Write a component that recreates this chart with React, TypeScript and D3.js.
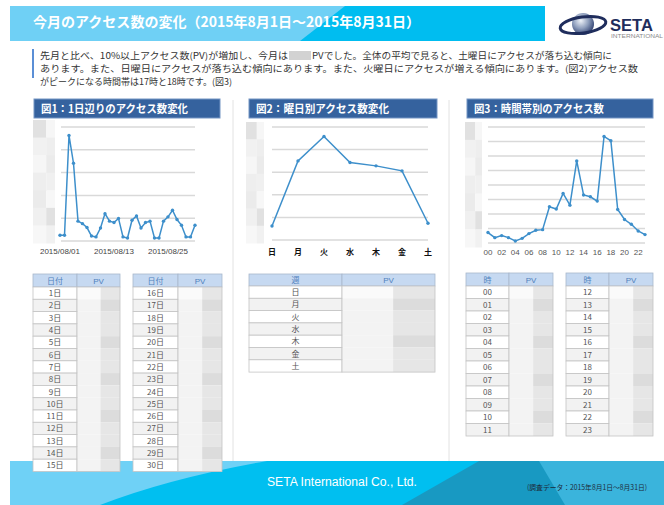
import React from 'react'
import * as d3 from 'd3'

// ---- data ----
const dailyPV = [25, 25, 463, 341, 87, 76, 59, 22, 18, 57, 120, 87, 81, 99, 18, 13, 91, 110, 57, 81, 87, 13, 13, 87, 106, 135, 94, 69, 18, 18, 69]
const dayTickDays = [1, 13, 25]
const dayTickLabels = ['2015/08/01', '2015/08/13', '2015/08/25']

const weekdays = ['日', '月', '火', '水', '木', '金', '土']
const weekdayPV = [62, 350, 458, 343, 328, 306, 74]

const hours = ['00', '01', '02', '03', '04', '05', '06', '07', '08', '09', '10', '11', '12', '13', '14', '15', '16', '17', '18', '19', '20', '21', '22', '23']
const hourlyPV = [72, 37, 51, 37, 14, 32, 65, 88, 92, 250, 234, 342, 261, 566, 331, 319, 289, 735, 705, 231, 162, 129, 83, 58]
const hourTicks = ['00', '02', '04', '06', '08', '10', '12', '14', '16', '18', '20', '22']

const dayRowsA = ['1日', '2日', '3日', '4日', '5日', '6日', '7日', '8日', '9日', '10日', '11日', '12日', '13日', '14日', '15日']
const dayRowsB = ['16日', '17日', '18日', '19日', '20日', '21日', '22日', '23日', '24日', '25日', '26日', '27日', '28日', '29日', '30日']
const hourRowsA = hours.slice(0, 12)
const hourRowsB = hours.slice(12)

// blurred (mosaic) axis labels in the original
const mosaic = ['#e1e1e1', '#f1f1f1', '#f6f6f6', '#eeeeee', '#ebebeb', '#f0f0f0', '#f7f7f7']

const JP = '"Noto Sans CJK JP", "Noto Sans", sans-serif'
const LAT = '"Liberation Sans", Arial, sans-serif'
const LINE = '#3d8fcb'
const GRID = '#d9d9d9'

type ChartProps = {
  x0: number, x1: number, yTop: number, yBot: number, nGrid: number, max: number
}

const Grid = ({ x0, x1, yTop, yBot, nGrid, max }: ChartProps) => {
  const y = d3.scaleLinear().domain([0, max]).range([yBot, yTop])
  return (
    <g>
      {y.ticks(nGrid - 1).map(t => (
        <line key={t} x1={x0} x2={x1} y1={y(t)} y2={y(t)} stroke={GRID} strokeWidth={1.5} />
      ))}
    </g>
  )
}

const Mosaic = ({ x, y, w, h }: { x: number, y: number, w: number, h: number }) => {
  const bh = h / mosaic.length
  return (
    <g>
      {mosaic.map((c, i) => (
        <g key={i}>
          <rect x={x} y={y + i * bh} width={w * 0.6} height={bh + 0.5} fill={c} />
          <rect x={x + w * 0.6} y={y + i * bh} width={w * 0.4} height={bh + 0.5} fill={mosaic[(i + 2) % mosaic.length]} />
        </g>
      ))}
    </g>
  )
}

const TitleBar = ({ x, w, label, len }: { x: number, w: number, label: string, len: number }) => (
  <g>
    <rect x={x} y={99} width={w} height={19} fill="#35629e" stroke="#7595c4" strokeWidth={1} />
    <text x={x + 7} y={113} fill="#fff" fontFamily={JP} fontWeight="bold" fontSize={11} textLength={len} lengthAdjust="spacingAndGlyphs">{label}</text>
  </g>
)

type TableProps = {
  x: number, y: number, w1: number, w2: number, hh: number, rh: number, head: string, rows: string[]
}

const Table = ({ x, y, w1, w2, hh, rh, head, rows }: TableProps) => {
  const ry = d3.scaleLinear().domain([0, rows.length]).range([y + hh, y + hh + rh * rows.length])
  return (
    <g fontFamily={JP} fontSize={8}>
      <rect x={x} y={y} width={w1} height={hh} fill="#c6d9f1" stroke="#a9b8cc" strokeWidth={0.8} />
      <rect x={x + w1} y={y} width={w2} height={hh} fill="#c6d9f1" stroke="#a9b8cc" strokeWidth={0.8} />
      <text x={x + w1 / 2} y={y + hh / 2 + 3} textAnchor="middle" fill="#4f81bd">{head}</text>
      <text x={x + w1 + w2 / 2} y={y + hh / 2 + 3} textAnchor="middle" fill="#4f81bd" fontFamily={LAT}>PV</text>
      {rows.map((r, i) => (
        <g key={r}>
          <rect x={x} y={ry(i)} width={w1} height={rh} fill={i % 2 ? '#f2f2f2' : '#fff'} stroke="#c4c4c4" strokeWidth={0.8} />
          <rect x={x + w1} y={ry(i)} width={w2} height={rh} fill={i === 0 ? '#fafafa' : '#f3f3f3'} />
          <rect x={x + w1 + w2 * 0.55} y={ry(i)} width={w2 * 0.45} height={rh} fill={i % 3 === 1 ? '#dcdcdc' : '#e6e6e6'} />
          <text x={x + w1 / 2} y={ry(i) + rh / 2 + 3} textAnchor="middle" fill="#555">{r}</text>
        </g>
      ))}
      <rect x={x + w1} y={y + hh} width={w2} height={rh * rows.length} fill="none" stroke="#c4c4c4" strokeWidth={0.8} />
    </g>
  )
}

const App = () => {
  // chart 1: daily
  const x1 = d3.scaleLinear().domain([1, 31]).range([60, 195])
  const y1 = d3.scaleLinear().domain([0, 500]).range([241, 127])
  const line1 = d3.line<number>().x((_, i) => x1(i + 1)).y(d => y1(d))

  // chart 2: weekday
  const x2 = d3.scalePoint<string>().domain(weekdays).range([272, 428])
  const y2 = d3.scaleLinear().domain([0, 500]).range([240, 127])
  const line2 = d3.line<number>().x((_, i) => x2(weekdays[i]) as number).y(d => y2(d))

  // chart 3: hourly
  const x3 = d3.scalePoint<string>().domain(hours).range([488, 645])
  const y3 = d3.scaleLinear().domain([0, 800]).range([243, 127])
  const line3 = d3.line<number>().x((_, i) => x3(hours[i]) as number).y(d => y3(d))

  return (
    <svg width={664} height={505} style={{ position: 'absolute', left: 0, top: 0, background: '#fff' }}>
      <defs>
        <radialGradient id="globe" cx="0.4" cy="0.35" r="0.7">
          <stop offset="0" stopColor="#eef2f8" />
          <stop offset="0.5" stopColor="#8f9fbd" />
          <stop offset="1" stopColor="#27386a" />
        </radialGradient>
      </defs>

      {/* header */}
      <rect x={10} y={6} width={535} height={35} fill="#6fd0f5" />
      <path d="M345,6 L545,6 L545,41 L300,41 Z" fill="#00bdf0" />
      <text x={33} y={27} fill="#fff" fontFamily={JP} fontWeight="bold" fontSize={14} textLength={387} lengthAdjust="spacingAndGlyphs">
        今月のアクセス数の変化（2015年8月1日～2015年8月31日）
      </text>
      {/* logo */}
      <circle cx={583} cy={24} r={11} fill="url(#globe)" />
      <ellipse cx={583} cy={25} rx={23} ry={8} fill="none" stroke="#1f2d5c" strokeWidth={3} transform="rotate(-8 583 25)" />
      <text x={610} y={31} fill="#1f2d5c" fontFamily={LAT} fontWeight="bold" fontSize={17} textLength={43} lengthAdjust="spacingAndGlyphs">SETA</text>
      <text x={611} y={37.5} fill="#8a8a8a" fontFamily={LAT} fontSize={4.5} textLength={52} lengthAdjust="spacingAndGlyphs">INTERNATIONAL</text>

      {/* summary paragraph */}
      <line x1={33} x2={33} y1={49} y2={78} stroke="#5b8fd6" strokeWidth={2} />
      <g fontFamily={JP} fontSize={9} fill="#333">
        <text x={40} y={59} textLength={248} lengthAdjust="spacingAndGlyphs">先月と比べ、10%以上アクセス数(PV)が増加し、今月は</text>
        <rect x={289} y={51} width={22} height={9} fill="#d2d2d2" />
        <text x={312} y={59} textLength={300} lengthAdjust="spacingAndGlyphs">PVでした。全体の平均で見ると、土曜日にアクセスが落ち込む傾向に</text>
        <text x={40} y={72} textLength={598} lengthAdjust="spacingAndGlyphs">あります。また、日曜日にアクセスが落ち込む傾向にあります。また、火曜日にアクセスが増える傾向にあります。(図2)アクセス数</text>
        <text x={40} y={85} textLength={192} lengthAdjust="spacingAndGlyphs">がピークになる時間帯は17時と18時です。(図3)</text>
      </g>

      {/* separators */}
      <line x1={233} x2={233} y1={100} y2={461} stroke="#e2e2e2" />
      <line x1={449} x2={449} y1={100} y2={461} stroke="#e2e2e2" />

      {/* footer */}
      <rect x={10} y={461} width={654} height={44} fill="#00bff0" />
      <path d="M10,461 L267,461 Q170,478 100,505 L10,505 Z" fill="#6fd1f6" />
      <path d="M479,461 L664,461 L664,505 L402,505 Z" fill="#1899c2" />
      <path d="M539,461 L664,461 L664,505 L565,505 Z" fill="#3ab4dc" />
      <text x={267} y={486} fill="#fff" fontFamily={LAT} fontSize={12} textLength={150} lengthAdjust="spacingAndGlyphs">SETA International Co., Ltd.</text>
      <text x={527} y={489.5} fill="#1d2b3a" fontFamily={JP} fontSize={7} textLength={120} lengthAdjust="spacingAndGlyphs">(調査データ：2015年8月1日～8月31日)</text>

      {/* chart 1 */}
      <TitleBar x={34} w={186} len={147} label="図1：1日辺りのアクセス数変化" />
      <Mosaic x={33} y={120} w={22} h={123} />
      <Grid x0={61} x1={195} yTop={127} yBot={241} nGrid={6} max={500} />
      <path d={line1(dailyPV) ?? ''} fill="none" stroke={LINE} strokeWidth={1.5} />
      {dailyPV.map((d, i) => <circle key={i} cx={x1(i + 1)} cy={y1(d)} r={1.7} fill={LINE} />)}
      {dayTickDays.map((d, i) => (
        <text key={d} x={x1(d)} y={254} textAnchor="middle" fontFamily={LAT} fontSize={8} fill="#444">{dayTickLabels[i]}</text>
      ))}

      {/* chart 2 */}
      <TitleBar x={249} w={188} len={133} label="図2：曜日別アクセス数変化" />
      <Mosaic x={246} y={122} w={18} h={121} />
      <Grid x0={272} x1={428} yTop={127} yBot={240} nGrid={6} max={500} />
      <path d={line2(weekdayPV) ?? ''} fill="none" stroke={LINE} strokeWidth={1.5} />
      {weekdayPV.map((d, i) => <circle key={i} cx={x2(weekdays[i])} cy={y2(d)} r={1.7} fill={LINE} />)}
      {weekdays.map(w => (
        <text key={w} x={x2(w)} y={255} textAnchor="middle" fontFamily={JP} fontWeight="bold" fontSize={8} fill="#111">{w}</text>
      ))}

      {/* chart 3 */}
      <TitleBar x={467} w={186} len={130} label="図3：時間帯別のアクセス数" />
      <Mosaic x={465} y={122} w={17} h={125} />
      <Grid x0={488} x1={645} yTop={127} yBot={243} nGrid={9} max={800} />
      <path d={line3(hourlyPV) ?? ''} fill="none" stroke={LINE} strokeWidth={1.5} />
      {hourlyPV.map((d, i) => <circle key={i} cx={x3(hours[i])} cy={y3(d)} r={1.7} fill={LINE} />)}
      {hourTicks.map(h => (
        <text key={h} x={x3(h)} y={255} textAnchor="middle" fontFamily={LAT} fontSize={8} fill="#555">{h}</text>
      ))}

      {/* tables */}
      <Table x={33} y={274} w1={44} w2={43} hh={13} rh={12.3} head="日付" rows={dayRowsA} />
      <Table x={133} y={274} w1={45} w2={44} hh={13} rh={12.3} head="日付" rows={dayRowsB} />
      <Table x={249} y={274} w1={93} w2={93} hh={12} rh={12.3} head="週" rows={weekdays} />
      <Table x={466} y={273} w1={43} w2={44} hh={13} rh={12.5} head="時" rows={hourRowsA} />
      <Table x={566} y={273} w1={43} w2={44} hh={13} rh={12.5} head="時" rows={hourRowsB} />
    </svg>
  )
}

export default App
